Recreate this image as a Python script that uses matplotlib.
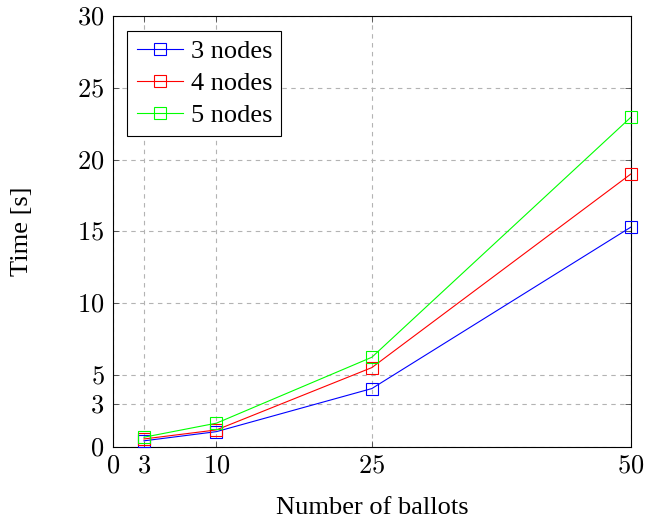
import matplotlib
matplotlib.use("Agg")
import matplotlib.pyplot as plt

ballots = [3, 10, 25, 50]
nodes3 = [0.42, 1.06, 4.06, 15.3]
nodes4 = [0.55, 1.18, 5.52, 19.0]
nodes5 = [0.67, 1.65, 6.24, 22.95]
series_labels = ["3 nodes", "4 nodes", "5 nodes"]
colors = ["#0000ff", "#ff0000", "#00ff00"]
xticks = [0, 3, 10, 25, 50]
yticks = [0, 3, 5, 10, 15, 20, 25, 30]

plt.rcParams['font.family'] = ['Liberation Serif', 'DejaVu Serif']
plt.rcParams['mathtext.fontset'] = 'cm'

FS = 19

fig = plt.figure(figsize=(6.45, 5.19), dpi=100)
ax = fig.add_axes([0.175, 0.139, 0.803, 0.830])

for ys, lab, c in zip([nodes3, nodes4, nodes5], series_labels, colors):
    ax.plot(ballots, ys, color=c, lw=0.8, marker='s', markersize=8,
            markerfacecolor='none', markeredgecolor=c, markeredgewidth=0.8,
            label=lab, clip_on=False, zorder=3)

ax.set_xlim(0, 50)
ax.set_ylim(0, 30)
ax.set_xticks(xticks)
ax.set_xticklabels([f"${t}$" for t in xticks])
ax.set_yticks(yticks)
ax.set_yticklabels([f"${t}$" for t in yticks])
ax.tick_params(direction='in', length=4, width=0.6, labelsize=FS,
               top=True, right=True, color='#444444', pad=6)
ax.grid(True, color='#b3b3b3', linestyle=(0, (4, 4)), linewidth=0.8)
ax.set_axisbelow(True)
for s in ax.spines.values():
    s.set_linewidth(0.8)
    s.set_color('black')

ax.set_xlabel("Number of ballots", fontsize=FS, labelpad=14)
ax.set_ylabel("Time [s]", fontsize=FS, labelpad=32)

leg = ax.legend(loc='upper left', fontsize=FS, fancybox=False, framealpha=1,
                edgecolor='black', borderaxespad=0.55, handlelength=1.75,
                handletextpad=0.3, labelspacing=0.32, borderpad=0.35)
leg.get_frame().set_linewidth(0.8)

fig.savefig("out.png", dpi=100)
